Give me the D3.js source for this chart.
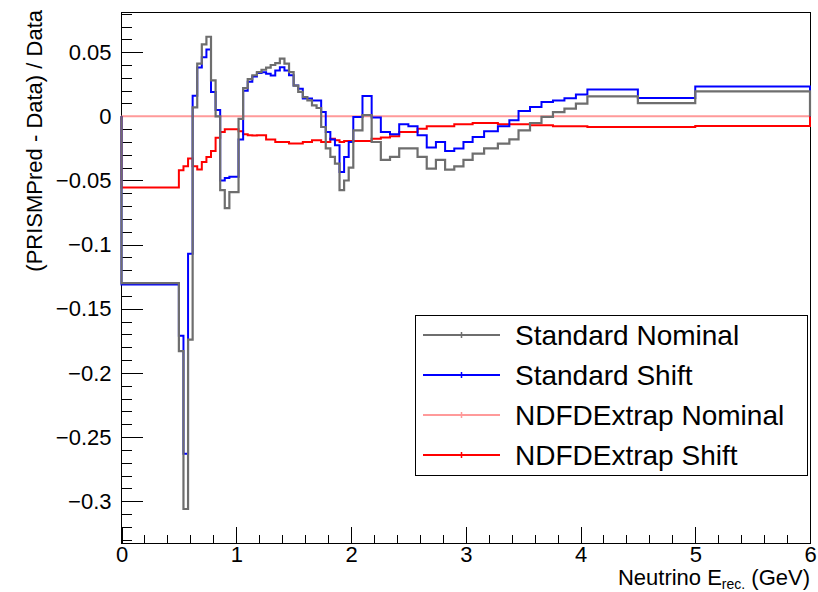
<!DOCTYPE html>
<html>
<head>
<meta charset="UTF-8">
<script src="https://d3js.org/d3.v7.min.js"></script>
<style>
  body { margin: 0; background: #fff; }
  svg text { font-family: "Liberation Sans", Arial, sans-serif; fill: #000; }
</style>
</head>
<body>
<div id="chart"></div>
<script>
// bin edges in GeV (variable binning)
const binEdges = [0, 0.5,
  0.54, 0.58, 0.62, 0.66, 0.70, 0.74, 0.78, 0.82, 0.86, 0.90,
  0.94, 0.98, 1.02, 1.06, 1.10, 1.14, 1.18, 1.22, 1.26, 1.30,
  1.34, 1.38, 1.42, 1.46, 1.50, 1.54, 1.58, 1.62, 1.66, 1.70,
  1.74, 1.78, 1.82, 1.86, 1.90, 1.94, 1.98, 2.02, 2.06, 2.10,
  2.18, 2.26, 2.34, 2.42, 2.50, 2.58, 2.66, 2.74, 2.82, 2.90,
  2.98, 3.06, 3.16, 3.28, 3.38, 3.46, 3.56, 3.66, 3.76, 3.86,
  3.96, 4.06, 4.5, 5.0, 6.0];

const standardNominal = [-0.130,
  -0.183, -0.306, -0.174, 0.007, 0.041, 0.056, 0.062, 0.028, 0.000, -0.0575,
  -0.0715, -0.059, -0.059, -0.002, 0.022, 0.029, 0.032, 0.0344, 0.0363, 0.038,
  0.040, 0.0415, 0.045, 0.041, 0.0344, 0.024, 0.019, 0.015, 0.0124, 0.0086,
  0.0065, -0.0083, -0.025, -0.0316, -0.0368, -0.0575, -0.050, -0.040, -0.011, -0.011,
  0.001, -0.020, -0.034, -0.0316, -0.025, -0.025, -0.0316, -0.0407, -0.034, -0.0415,
  -0.039, -0.034, -0.029, -0.025, -0.0212, -0.018, -0.0109, -0.0052, -0.0005, 0.0033,
  0.006, 0.0099, 0.0156, 0.0103, 0.0194];

const standardShift = [-0.131,
  -0.171, -0.263, -0.107, 0.016, 0.038, 0.046, 0.052, 0.019, 0.005, -0.050,
  -0.048, -0.047, -0.047, -0.018, 0.020, 0.027, 0.031, 0.0337, 0.0344, 0.0332,
  0.0319, 0.0358, 0.0383, 0.0358, 0.032, 0.024, 0.0215, 0.0138, 0.0138, 0.0124,
  0.0124, 0.0033, -0.0122, -0.018, -0.0226, -0.0433, -0.0316, -0.020, -0.0005, -0.0005,
  0.0158, -0.001, -0.0122, -0.014, -0.0062, -0.0078, -0.0148, -0.0243, -0.020, -0.027,
  -0.025, -0.020, -0.0161, -0.0117, -0.0078, -0.0031, 0.0041, 0.0072, 0.0111, 0.0124,
  0.014, 0.017, 0.021, 0.0142, 0.0233];

const ndfdShift = [-0.0555,
  -0.042, -0.0389, -0.0329, -0.0389, -0.0415, -0.0355, -0.0316, -0.027, -0.0166, -0.0122,
  -0.0101, -0.0101, -0.0101, -0.0117, -0.014, -0.0148, -0.015, -0.0148, -0.0148, -0.018,
  -0.018, -0.020, -0.020, -0.020, -0.0212, -0.0212, -0.0212, -0.020, -0.020, -0.0187,
  -0.0187, -0.020, -0.020, -0.0174, -0.0187, -0.020, -0.0192, -0.0192, -0.0192, -0.0192,
  -0.0192, -0.0175, -0.0165, -0.0156, -0.0122, -0.0122, -0.0096, -0.0078, -0.0078, -0.0078,
  -0.0062, -0.0062, -0.0052, -0.0052, -0.0062, -0.0062, -0.0062, -0.007, -0.007, -0.0078,
  -0.0078, -0.0078, -0.0083, -0.0083, -0.0075];

const ndfdNominalEdges = [0, 6];
const ndfdNominal = [0];

const xTicks = [0, 1, 2, 3, 4, 5, 6];
const yTicks = [0.05, 0, -0.05, -0.1, -0.15, -0.2, -0.25, -0.3];

const legendNames = ["Standard Nominal", "Standard Shift", "NDFDExtrap Nominal", "NDFDExtrap Shift"];
const legendColors = ["#6e6e6e", "#0000ff", "#ff9a9a", "#ff0000"];

const width = 818, height = 592;
const frame = {left: 121.5, right: 810, top: 12, bottom: 543};

const svg = d3.select("#chart").append("svg")
  .attr("width", width)
  .attr("height", height);

const x = d3.scaleLinear().domain([0, 6]).range([frame.left, frame.right]);
const y = d3.scaleLinear().domain([-0.3325, 0.0813]).range([frame.bottom, frame.top]);

// axes: ROOT style ticks inside the frame
const xMajor = svg.append("g")
  .attr("transform", `translate(0,${frame.bottom})`)
  .call(d3.axisBottom(x).tickValues(xTicks).tickSize(-16).tickPadding(3).tickFormat(d3.format("d")));
const xMinor = svg.append("g")
  .attr("transform", `translate(0,${frame.bottom})`)
  .call(d3.axisBottom(x).ticks(30).tickSize(-8).tickFormat(""));

const yMajor = svg.append("g")
  .attr("transform", `translate(${frame.left},0)`)
  .call(d3.axisLeft(y).tickValues(yTicks).tickSize(-21).tickPadding(10).tickFormat(d3.format("~g")));
const yMinor = svg.append("g")
  .attr("transform", `translate(${frame.left},0)`)
  .call(d3.axisLeft(y).tickValues(d3.range(-33, 9).map(d => d / 100)).tickSize(-10.5).tickFormat(""));

[xMajor, xMinor, yMajor, yMinor].forEach(g => {
  g.select(".domain").remove();
  g.selectAll("line").attr("stroke", "#000").attr("shape-rendering", "crispEdges");
  g.selectAll("text").style("font-size", "22px").attr("fill", "#000");
});

// frame
svg.append("rect")
  .attr("x", frame.left).attr("y", frame.top)
  .attr("width", frame.right - frame.left).attr("height", frame.bottom - frame.top)
  .attr("fill", "none").attr("stroke", "#000").attr("stroke-width", 1)
  .attr("shape-rendering", "crispEdges");

// histogram outlines
function stepPath(edges, vals) {
  const pts = [[edges[0], 0]];
  vals.forEach((v, i) => {
    pts.push([edges[i], v]);
    pts.push([edges[i + 1], v]);
  });
  pts.push([edges[edges.length - 1], 0]);
  return d3.line().x(d => x(d[0])).y(d => y(d[1]))(pts);
}

const hists = [
  {edges: ndfdNominalEdges, vals: ndfdNominal, color: legendColors[2], w: 2},
  {edges: binEdges, vals: ndfdShift, color: legendColors[3], w: 2},
  {edges: binEdges, vals: standardShift, color: legendColors[1], w: 2},
  {edges: binEdges, vals: standardNominal, color: legendColors[0], w: 2.2}
];

svg.selectAll(".hist")
  .data(hists)
  .enter()
  .append("path")
  .attr("class", "hist")
  .attr("d", d => stepPath(d.edges, d.vals))
  .attr("fill", "none")
  .attr("stroke", d => d.color)
  .attr("stroke-width", d => d.w)
  .attr("stroke-linejoin", "miter");

// axis titles
svg.append("text")
  .attr("transform", `translate(42,${frame.top - 2}) rotate(-90)`)
  .attr("text-anchor", "end")
  .style("font-size", "22px")
  .text("(PRISMPred - Data) / Data");

const xt = svg.append("text")
  .attr("x", frame.right)
  .attr("y", 585)
  .attr("text-anchor", "end")
  .style("font-size", "22px");
xt.append("tspan").text("Neutrino E");
xt.append("tspan").attr("dy", 4).style("font-size", "14px").text("rec.");
xt.append("tspan").attr("dy", -4).text(" (GeV)");

// legend
const leg = svg.append("g");
leg.append("rect")
  .attr("x", 415.5).attr("y", 315.5)
  .attr("width", 392).attr("height", 160)
  .attr("fill", "#fff").attr("stroke", "#000").attr("stroke-width", 1);

const rows = leg.selectAll(".entry")
  .data(legendNames)
  .enter()
  .append("g")
  .attr("class", "entry")
  .attr("transform", (d, i) => `translate(0,${335 + i * 40})`);

rows.append("line")
  .attr("x1", 423).attr("x2", 500)
  .attr("y1", 0).attr("y2", 0)
  .attr("stroke", (d, i) => legendColors[i])
  .attr("stroke-width", 2);

rows.append("line")
  .attr("x1", 461.5).attr("x2", 461.5)
  .attr("y1", -3).attr("y2", 3)
  .attr("stroke", (d, i) => legendColors[i])
  .attr("stroke-width", 1.5);

rows.append("text")
  .attr("x", 515)
  .attr("y", 10)
  .style("font-size", "28px")
  .text(d => d);
</script>
</body>
</html>
